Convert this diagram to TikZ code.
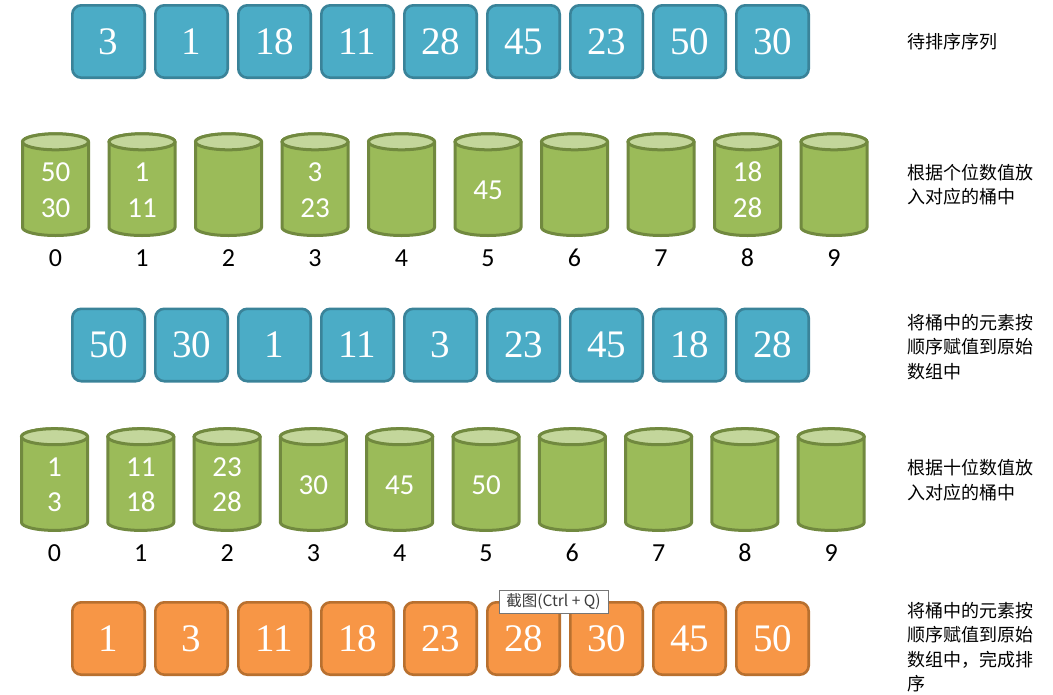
\documentclass[tikz,border=0pt]{standalone}
\usepackage{fontspec}
\setmainfont{Liberation Serif}
\newfontfamily\cjkfont{Noto Sans CJK SC}
\newfontfamily\calfont{Carlito}
\definecolor{boxblue}{HTML}{4BACC6}
\definecolor{boxblueline}{HTML}{3A8399}
\definecolor{boxorange}{HTML}{F79646}
\definecolor{boxorangeline}{HTML}{B8702F}
\definecolor{bkgreen}{HTML}{9BBB59}
\definecolor{bkgreenline}{HTML}{71893F}
\definecolor{bktop}{HTML}{C3D69B}
\definecolor{tipline}{HTML}{767676}
\definecolor{tiptext}{HTML}{3C3C3C}
\tikzset{
  numbox/.style={draw, line width=2.6pt, rounded corners=9pt, minimum width=72.4pt,
    minimum height=72.4pt, inner sep=0pt, text=white, font=\fontsize{39}{39}\selectfont},
  bluebox/.style={numbox, fill=boxblue, draw=boxblueline},
  orangebox/.style={numbox, fill=boxorange, draw=boxorangeline},
  bucketbody/.style={fill=bkgreen, draw=bkgreenline, line width=3pt, line join=round},
  buckettop/.style={fill=bktop, draw=bkgreenline, line width=3pt},
  bucketnum/.style={text=white, font=\calfont\fontsize{29}{29}\selectfont, inner sep=0pt},
  bucketlabel/.style={text=black, font=\calfont\fontsize{26}{26}\selectfont, inner sep=0pt},
  note/.style={anchor=west, align=left, inner sep=0pt, font=\cjkfont\fontsize{18}{24.5}\selectfont},
  bucket/.pic={
    \path[bucketbody] (-33,0) -- (-33,85.7)
      arc[start angle=180, end angle=360, x radius=33pt, y radius=8pt] -- (33,0)
      arc[start angle=0, end angle=180, x radius=33pt, y radius=8pt] -- cycle;
    \path[buckettop] (0,0) ellipse[x radius=33pt, y radius=8pt];
  }
}
\begin{document}
\begin{tikzpicture}[x=1pt,y=-1pt]
\useasboundingbox (0,0) rectangle (1053,694);
% row 1
\foreach \v [count=\i from 0] in {3,1,18,11,28,45,23,50,30}
  \node[bluebox] (a\i) at (108.5+83*\i, 41.5) {\v};
% row 2 buckets
\foreach \i in {0,...,9} {
  \pic at (55.5+86.5*\i, 141.8) {bucket};
  \node[bucketlabel] (l\i) at (55.5+86.5*\i, 258) {\i};
}
\node[bucketnum] (b0a) at (55.5, 172) {50};
\node[bucketnum] (b0b) at (55.5, 208) {30};
\node[bucketnum] (b1a) at (142, 172) {1};
\node[bucketnum] (b1b) at (142, 208) {11};
\node[bucketnum] (b3a) at (315, 172) {3};
\node[bucketnum] (b3b) at (315, 208) {23};
\node[bucketnum] (b5a) at (488, 190) {45};
\node[bucketnum] (b8a) at (747.5, 172) {18};
\node[bucketnum] (b8b) at (747.5, 208) {28};
% row 3
\foreach \v [count=\i from 0] in {50,30,1,11,3,23,45,18,28}
  \node[bluebox] (c\i) at (108.5+83*\i, 345) {\v};
% row 4 buckets
\foreach \i in {0,...,9} {
  \pic at (54.5+86.3*\i, 436.7) {bucket};
  \node[bucketlabel] (m\i) at (54.5+86.3*\i, 553) {\i};
}
\node[bucketnum] (d0a) at (54.5, 467) {1};
\node[bucketnum] (d0b) at (54.5, 502) {3};
\node[bucketnum] (d1a) at (140.8, 467) {11};
\node[bucketnum] (d1b) at (140.8, 502) {18};
\node[bucketnum] (d2a) at (227.1, 467) {23};
\node[bucketnum] (d2b) at (227.1, 502) {28};
\node[bucketnum] (d3a) at (313.4, 485) {30};
\node[bucketnum] (d4a) at (399.7, 485) {45};
\node[bucketnum] (d5a) at (486.0, 485) {50};
% row 5
\foreach \v [count=\i from 0] in {1,3,11,18,23,28,30,45,50}
  \node[orangebox] (e\i) at (108.5+83*\i, 638.5) {\v};
% notes
\node[note] (t1) at (907, 42) {待排序序列};
\node[note] (t2) at (907, 184.5) {根据个位数值放\\入对应的桶中};
\node[note] (t3) at (907, 347) {将桶中的元素按\\顺序赋值到原始\\数组中};
\node[note] (t4) at (907, 480) {根据十位数值放\\入对应的桶中};
\node[note] (t5) at (907, 647) {将桶中的元素按\\顺序赋值到原始\\数组中，完成排\\序};
% tooltip
\node[draw=tipline, fill=white, line width=0.8pt, minimum width=109pt, minimum height=23pt,
  inner sep=0pt, text=tiptext, font=\cjkfont\fontsize{15.5}{16}\selectfont] (tip) at (553.5, 601.5) {截图(Ctrl + Q)};
\end{tikzpicture}
\end{document}
